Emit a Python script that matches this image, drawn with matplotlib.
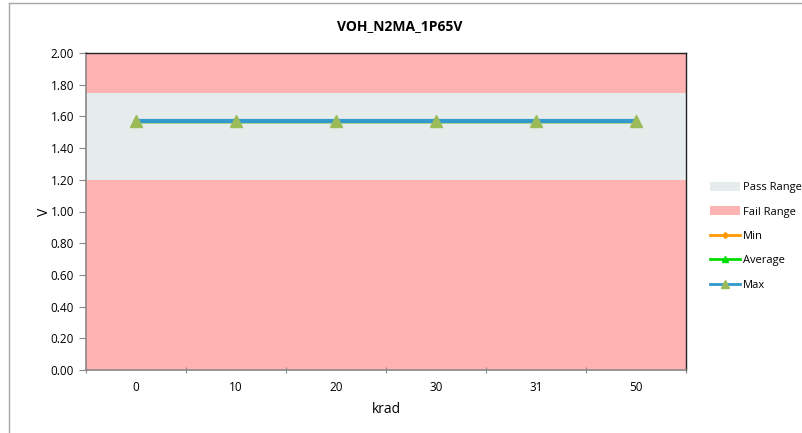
import matplotlib
matplotlib.use("Agg")
import matplotlib.pyplot as plt
from matplotlib.patches import Patch
from matplotlib.lines import Line2D
import numpy as np

plt.rcParams['font.family'] = ['Open Sans', 'DejaVu Sans']

title = "VOH_N2MA_1P65V"
categories = ["0", "10", "20", "30", "31", "50"]
min_vals = [1.57, 1.57, 1.57, 1.57, 1.57, 1.57]
avg_vals = [1.57, 1.57, 1.57, 1.57, 1.57, 1.57]
max_vals = [1.57, 1.57, 1.57, 1.57, 1.57, 1.57]
pass_low = 1.20
pass_high = 1.75
fail_top = 2.00
y_ticks = [0.0, 0.2, 0.4, 0.6, 0.8, 1.0, 1.2, 1.4, 1.6, 1.8, 2.0]

W, H = 803, 433
fig = plt.figure(figsize=(W / 100, H / 100), dpi=100)
fig.patch.set_facecolor('white')

# outer chart border (top and left visible)
fig.add_artist(Line2D([9 / W, 9 / W], [0, 1 - 3 / H], color='#a6a6a6', lw=1))
fig.add_artist(Line2D([9 / W, 1], [1 - 3 / H, 1 - 3 / H], color='#a6a6a6', lw=1))

ax = fig.add_axes([86 / W, (H - 370) / H, 600 / W, 317 / H])
x = np.arange(len(categories))
xe = [-0.5, len(categories) - 0.5]

fail_c = '#ffb3b3'
pass_c = '#e6ecec'
ax.fill_between(xe, 0, fail_top, color=fail_c, lw=0, zorder=1)
ax.fill_between(xe, pass_low, pass_high, color=pass_c, lw=0, zorder=2)

ax.plot(x, min_vals, color='#ff9900', lw=2.5, marker='D', ms=3, zorder=3)
ax.plot(x, avg_vals, color='#00dd00', lw=2.5, marker='^', ms=5, zorder=4)
ax.plot(x, max_vals, color='#3399cc', lw=3, marker='^', ms=9,
        markerfacecolor='#9bbb59', markeredgecolor='#9bbb59', zorder=5)

ax.set_xlim(xe)
ax.set_ylim(0, 2)
ax.set_yticks(y_ticks)
ax.set_yticklabels([f"{v:.2f}" for v in y_ticks])
ax.set_xticks(np.arange(-0.5, len(categories)), minor=False)
ax.set_xticklabels([])
ax.set_xticks(x, minor=True)
ax.set_xticklabels(categories, minor=True)
ax.tick_params(axis='x', which='minor', length=0, pad=8, labelsize=8.5)
ax.tick_params(axis='x', which='major', length=5, direction='inout', color='#888888')
ax.tick_params(axis='y', length=5, direction='out', color='#888888', labelsize=8.5)

for s in ['top', 'right']:
    ax.spines[s].set_color('#222222')
    ax.spines[s].set_linewidth(1)
for s in ['left', 'bottom']:
    ax.spines[s].set_color('#888888')
    ax.spines[s].set_linewidth(1.2)

ax.set_ylabel("V", fontsize=10, labelpad=-1)
ax.set_xlabel("krad", fontsize=10, labelpad=6)
fig.text(400 / W, 1 - 26 / H, title, ha='center', va='center', fontsize=10, fontweight='bold')

handles = [
    Patch(facecolor=pass_c, edgecolor='none'),
    Patch(facecolor=fail_c, edgecolor='none'),
    Line2D([], [], color='#ff9900', lw=2, marker='D', ms=3),
    Line2D([], [], color='#00dd00', lw=2, marker='^', ms=5),
    Line2D([], [], color='#3399cc', lw=2, marker='^', ms=6,
           markerfacecolor='#9bbb59', markeredgecolor='#9bbb59'),
]
labels = ["Pass Range", "Fail Range", "Min", "Average", "Max"]
fig.legend(handles, labels, loc='upper left', bbox_to_anchor=(710 / W, 1 - 182 / H),
           frameon=False, fontsize=8, handlelength=2.7, handletextpad=0.3,
           handleheight=0.8, labelspacing=1.2, borderaxespad=0, borderpad=0)

fig.savefig("out.png", dpi=100)
